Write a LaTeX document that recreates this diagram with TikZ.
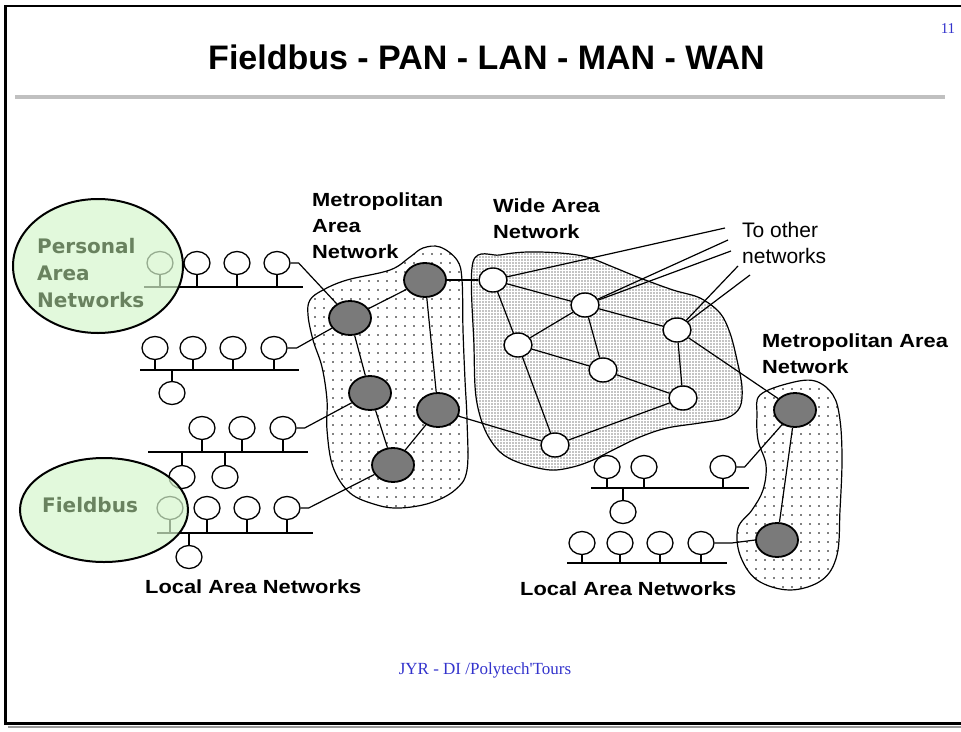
\documentclass[tikz,border=0pt]{standalone}
\usepackage{fontspec}
\setmainfont{Liberation Serif}
\newfontfamily\sansfam{Liberation Sans}
\newfontfamily\lblfam{Liberation Sans}[FakeStretch=1.15]
\newfontfamily\dvs{DejaVu Sans}
\usetikzlibrary{shapes.geometric,patterns.meta}
\definecolor{slideblue}{RGB}{51,51,204}
\definecolor{pangreen}{RGB}{214,246,205}
\definecolor{pantext}{RGB}{105,130,95}
\definecolor{rulegray}{RGB}{192,192,192}
\begin{document}
\begin{tikzpicture}[x=1pt,y=-1pt,
  host/.style={ellipse, draw, line width=1.3pt, fill=white, minimum width=26pt, minimum height=23pt, inner sep=0pt},
  wannode/.style={ellipse, draw, line width=1.4pt, fill=white, minimum width=28pt, minimum height=24pt, inner sep=0pt},
  mannode/.style={ellipse, draw, line width=1.8pt, fill=black!52, minimum width=42pt, minimum height=34pt, inner sep=0pt},
  bus/.style={line width=2pt},
  stem/.style={line width=1.5pt},
  link/.style={line width=1.2pt},
  blob/.style={draw, line width=1.2pt},
  netlabel/.style={font=\lblfam\bfseries\fontsize{19}{26}\selectfont, align=left, inner sep=0pt},
  zone/.style={ellipse, draw, line width=2pt, fill=pangreen, fill opacity=0.7, inner sep=0pt},
  zonetext/.style={text=pantext, font=\dvs\bfseries\fontsize{20}{27}\selectfont, align=left, inner sep=0pt}
]
\useasboundingbox (0,0) rectangle (961,731);
% slide frame
\draw[line width=2.5pt] (970,6) -- (5.5,6) -- (5.5,723.5) -- (970,723.5);
\draw[black!40, line width=2pt] (8,726.5) -- (970,726.5);
\node[font=\sansfam\bfseries\fontsize{34}{40}\selectfont, anchor=base, inner sep=0pt] (title) at (486.5,69) {Fieldbus - PAN - LAN - MAN - WAN};
\draw[rulegray, line width=4pt] (15,97) -- (945,97);
\node[font=\fontsize{15}{17}\selectfont, text=slideblue, anchor=base, inner sep=0pt] (pagenum) at (948,33) {11};
\node[font=\fontsize{17}{20}\selectfont, text=slideblue, anchor=base, inner sep=0pt] (footer) at (485,674) {JYR - DI /Polytech\textquotesingle Tours};

% network areas
\draw[blob, pattern={Dots[distance=9pt,radius=0.9pt]}] plot[smooth cycle, tension=0.6] coordinates {
 (310,300) (323,290) (347,280) (390,270) (410,257) (423,248) (440,247) (457,260) (462,280)
 (463,330) (465,380) (467,420) (467,470) (455,490) (430,503) (400,508) (377,505) (350,493)
 (333,467) (327,430) (327,400) (322,367) (313,340) (308,315)};
\draw[blob, pattern={Dots[distance=3pt,radius=0.62pt]}] plot[smooth cycle, tension=0.55] coordinates {
 (473,262) (500,255) (527,252) (560,253) (587,257) (613,267) (640,278) (673,290) (700,298)
 (720,313) (730,333) (737,360) (742,387) (740,407) (727,418) (700,423) (667,428) (640,437)
 (613,450) (593,460) (573,467) (550,470) (520,463) (500,452) (485,430) (476,397) (474,347)};
\draw[blob, pattern={Dots[distance=9pt,radius=0.9pt]}] plot[smooth cycle, tension=0.6] coordinates {
 (760,395) (790,383) (815,381) (833,395) (840,420) (842,460) (840,510) (837,555) (822,580)
 (790,590) (757,580) (740,555) (738,528) (752,510) (763,490) (766,465) (758,440) (757,415)};

% MAN / WAN nodes
\node[mannode] (M1) at (350,318) {};
\node[mannode] (M2) at (425,280) {};
\node[mannode] (M3) at (370,393) {};
\node[mannode] (M4) at (438,410) {};
\node[mannode] (M5) at (393,465) {};
\node[mannode] (R1) at (795,410) {};
\node[mannode] (R2) at (777,540) {};
\node[wannode] (W1) at (493,280) {};
\node[wannode] (W2) at (585,305) {};
\node[wannode] (W3) at (677,330) {};
\node[wannode] (W4) at (518,345) {};
\node[wannode] (W5) at (603,370) {};
\node[wannode] (W6) at (683,398) {};
\node[wannode] (W7) at (555,445) {};
\coordinate (o1) at (725,228);
\coordinate (o2) at (728,240);
\coordinate (o3) at (731,251);
\coordinate (o4) at (738,266);
\coordinate (o5) at (750,275);

% left LANs
\node[host] (a1) at (160,263) {};
\node[host] (a2) at (197,263) {};
\node[host] (a3) at (237,263) {};
\node[host] (a4) at (277,263) {};
\coordinate (abl) at (144,287); \coordinate (abr) at (303,287);
\node[host] (b1) at (155,348) {};
\node[host] (b2) at (193,348) {};
\node[host] (b3) at (233,348) {};
\node[host] (b4) at (274,348) {};
\node[host] (b5) at (172,393) {};
\coordinate (bbl) at (140,370); \coordinate (bbr) at (299,370);
\node[host] (c1) at (202,428) {};
\node[host] (c2) at (242,428) {};
\node[host] (c3) at (283,428) {};
\node[host] (c4) at (182,477) {};
\node[host] (c5) at (225,477) {};
\coordinate (cbl) at (148,452); \coordinate (cbr) at (308,452);
\node[host] (f1) at (170,508) {};
\node[host] (f2) at (207,508) {};
\node[host] (f3) at (247,508) {};
\node[host] (f4) at (287,508) {};
\node[host] (f5) at (189,557) {};
\coordinate (fbl) at (157,533); \coordinate (fbr) at (313,533);
% right LANs
\node[host] (g1) at (607,467) {};
\node[host] (g2) at (644,467) {};
\node[host] (g3) at (723,467) {};
\node[host] (g4) at (623,512) {};
\coordinate (gbl) at (591,488); \coordinate (gbr) at (749,488);
\node[host] (h1) at (582,543) {};
\node[host] (h2) at (620,543) {};
\node[host] (h3) at (660,543) {};
\node[host] (h4) at (701,543) {};
\coordinate (hbl) at (567,563); \coordinate (hbr) at (727,563);

% links
\draw[link] (M1) -- (M2);
\draw[link] (M1) -- (M3);
\draw[link] (M3) -- (M5);
\draw[link] (M2) -- (M4);
\draw[link] (M4) -- (M5);
\draw[link] (M2) -- (W1);
\draw[link] (M4) -- (W7);
\draw[link] (W1) -- (W2);
\draw[link] (W2) -- (W3);
\draw[link] (W1) -- (W4);
\draw[link] (W2) -- (W4);
\draw[link] (W2) -- (W5);
\draw[link] (W4) -- (W5);
\draw[link] (W4) -- (W7);
\draw[link] (W3) -- (W6);
\draw[link] (W5) -- (W6);
\draw[link] (W7) -- (W6);
\draw[link] (W3) -- (R1);
\draw[link] (R1) -- (R2);
\draw[link] (W1) -- (o1);
\draw[link] (W2) -- (o2);
\draw[link] (W2) -- (o3);
\draw[link] (W3) -- (o4);
\draw[link] (W3) -- (o5);
\draw[link] (a4.east) -- ++(8,0) -- (M1);
\draw[link] (b4.east) -- ++(9,0) -- (M1);
\draw[link] (c3.east) -- ++(8,0) -- (M3);
\draw[link] (f4.east) -- ++(8,0) -- (M5);
\draw[link] (g3.east) -- ++(8,0) -- (R1);
\draw[link] (h4.east) -- ++(17,0) -- (R2.west);

% buses and stems
\draw[bus] (abl) -- (abr);
\draw[bus] (bbl) -- (bbr);
\draw[bus] (cbl) -- (cbr);
\draw[bus] (fbl) -- (fbr);
\draw[bus] (gbl) -- (gbr);
\draw[bus] (hbl) -- (hbr);
\foreach \h in {a1,a2,a3,a4} \draw[stem] (\h.south) -- (\h.south |- abl);
\foreach \h in {b1,b2,b3,b4} \draw[stem] (\h.south) -- (\h.south |- bbl);
\draw[stem] (b5.north) -- (b5.north |- bbl);
\foreach \h in {c1,c2,c3} \draw[stem] (\h.south) -- (\h.south |- cbl);
\foreach \h in {c4,c5} \draw[stem] (\h.north) -- (\h.north |- cbl);
\foreach \h in {f1,f2,f3,f4} \draw[stem] (\h.south) -- (\h.south |- fbl);
\draw[stem] (f5.north) -- (f5.north |- fbl);
\foreach \h in {g1,g2,g3} \draw[stem] (\h.south) -- (\h.south |- gbl);
\draw[stem] (g4.north) -- (g4.north |- gbl);
\foreach \h in {h1,h2,h3,h4} \draw[stem] (\h.south) -- (\h.south |- hbl);

% labels
\node[netlabel, anchor=north west] (manleft) at (312,193) {Metropolitan\\Area\\Network};
\node[netlabel, anchor=north west] (wanlabel) at (493,199) {Wide Area\\Network};
\node[netlabel, anchor=north west] (manright) at (762,334) {Metropolitan Area\\Network};
\node[netlabel, anchor=base west] (lanleft) at (145,593) {Local Area Networks};
\node[netlabel, anchor=base west] (lanright) at (520,595) {Local Area Networks};
\node[font=\sansfam\fontsize{21}{26}\selectfont, align=left, inner sep=0pt, anchor=north west] (other) at (742,222) {To other\\networks};

% PAN and Fieldbus highlights
\node[zone, minimum width=170pt, minimum height=134pt] (pan) at (98,266) {};
\node[zonetext, anchor=north west] (pantxt) at (37,238) {Personal\\Area\\Networks};
\node[zone, minimum width=168pt, minimum height=104pt] (fieldbus) at (104,510) {};
\node[zonetext, anchor=base west] (fbtxt) at (42,512) {Fieldbus};
\end{tikzpicture}
\end{document}
